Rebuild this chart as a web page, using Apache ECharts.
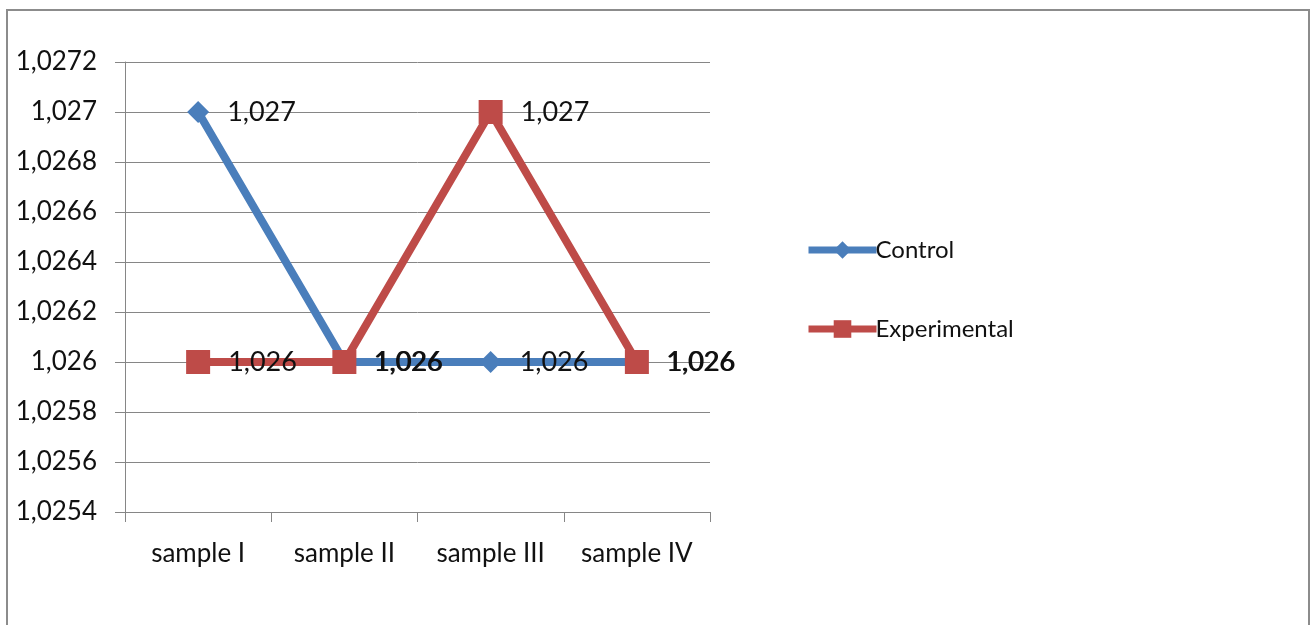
<!DOCTYPE html>
<html>
<head>
<meta charset="utf-8">
<script src="https://cdn.jsdelivr.net/npm/echarts@6/dist/echarts.min.js"></script>
<style>
  html, body { margin: 0; padding: 0; background: #fff; }
  #main { width: 1312px; height: 625px; }
</style>
</head>
<body>
<div id="main"></div>
<script>
// chart data
var categories = ["sample I", "sample II", "sample III", "sample IV"];
var controlValues = [1.027, 1.026, 1.026, 1.026];
var experimentalValues = [1.026, 1.026, 1.027, 1.026];
var yMin = 1.0254;
var yMax = 1.0272;
var yStep = 0.0002;

var myChart = echarts.init(document.getElementById("main"));

// decimal comma like the original
function commaNum(v) {
  return String(parseFloat(v.toFixed(4))).replace(".", ",");
}

var fontFam = "Lato, 'Open Sans', sans-serif";

var option = {
  backgroundColor: "#fff",
  animation: false,
  textStyle: { fontFamily: fontFam },
  graphic: [
    {
      type: "rect",
      shape: { x: 7, y: 10, width: 1302, height: 640 },
      style: { fill: "none", stroke: "#8c8c8c", lineWidth: 2 },
      silent: true
    }
  ],
  grid: { left: 125, right: 602, top: 62, bottom: 113 },
  legend: {
    orient: "vertical",
    left: 800,
    top: 233,
    itemGap: 55,
    itemWidth: 68,
    itemHeight: 22,
    lineStyle: { width: 7 },
    textStyle: { fontSize: 24, color: "#111", fontFamily: fontFam, padding: [0, 0, 0, -6] },
    data: ["Control", "Experimental"]
  },
  xAxis: {
    type: "category",
    data: categories,
    boundaryGap: true,
    axisLine: { lineStyle: { color: "#868686", width: 1 } },
    axisTick: { show: true, inside: false, length: 10, lineStyle: { color: "#868686" } },
    axisLabel: { fontSize: 26, color: "#111", margin: 29, interval: 0 }
  },
  yAxis: {
    type: "value",
    min: yMin,
    max: yMax,
    interval: yStep,
    axisLine: { show: true, lineStyle: { color: "#868686", width: 1 } },
    axisTick: { show: true, length: 10, lineStyle: { color: "#868686" } },
    splitLine: { lineStyle: { color: "#868686", width: 1 } },
    axisLabel: {
      fontSize: 26,
      color: "#111",
      margin: 28,
      formatter: function (v) { return commaNum(v); }
    }
  },
  series: [
    {
      name: "Control",
      type: "line",
      data: controlValues,
      symbol: "diamond",
      symbolSize: 22,
      lineStyle: { color: "#4a7ebb", width: 8 },
      itemStyle: { color: "#4a7ebb" },
      label: {
        show: true,
        position: "right",
        distance: 18,
        fontSize: 27,
        color: "#111",
        formatter: function (p) { return commaNum(p.value); }
      },
      z: 2
    },
    {
      name: "Experimental",
      type: "line",
      data: experimentalValues,
      symbol: "rect",
      symbolSize: 24,
      lineStyle: { color: "#be4b48", width: 8 },
      itemStyle: { color: "#be4b48" },
      label: {
        show: true,
        position: "right",
        distance: 18,
        fontSize: 27,
        color: "#111",
        formatter: function (p) { return commaNum(p.value); }
      },
      z: 3
    }
  ]
};

myChart.setOption(option);
</script>
</body>
</html>
